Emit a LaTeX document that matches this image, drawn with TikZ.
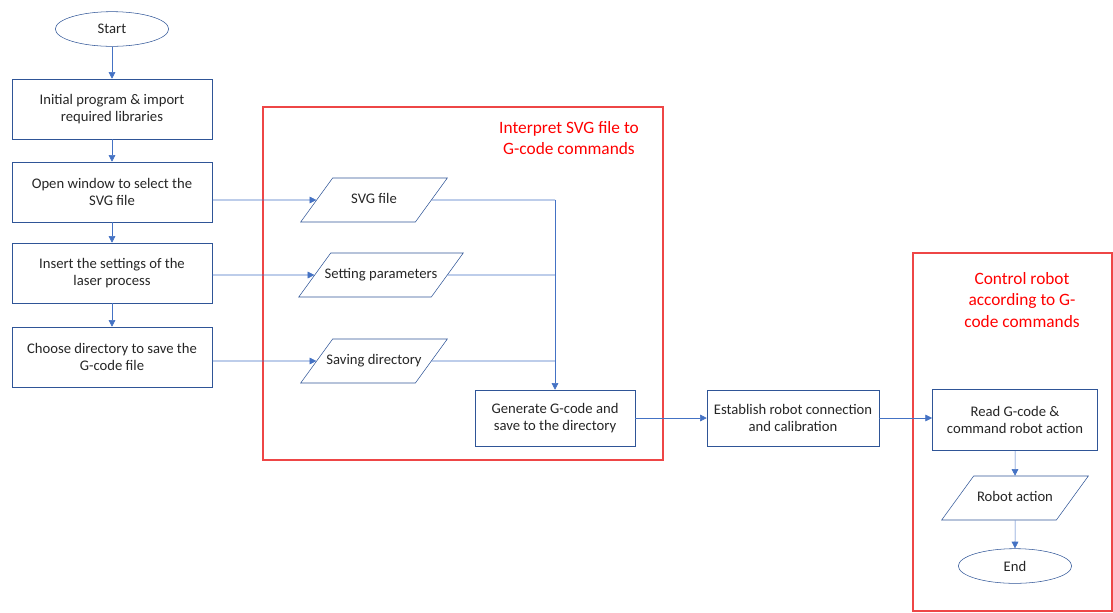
\documentclass[tikz,border=0pt]{standalone}
\usepackage{fontspec}
\setmainfont{Carlito}
\usetikzlibrary{shapes.geometric,arrows.meta}
\definecolor{lineblue}{RGB}{68,114,196}
\definecolor{edgeblue}{RGB}{47,85,151}
\definecolor{boxred}{RGB}{238,70,70}
\begin{document}
\begin{tikzpicture}[x=0.75pt,y=-0.75pt]
        \tikzstyle{txt}=[text=black!85, font=\fontsize{11}{13}\selectfont, align=center]
        \tikzstyle{proc}=[txt, rectangle, draw=edgeblue, minimum width=150pt, minimum height=45pt, inner sep=1pt]
        \tikzstyle{term}=[txt, ellipse, draw=edgeblue, minimum width=85pt, minimum height=26pt]
        \tikzstyle{io}=[txt, trapezium, trapezium left angle=54, trapezium right angle=126, trapezium stretches body=true, draw=edgeblue, minimum width=110pt, text height=8pt, text depth=2.5pt, inner xsep=1pt, inner ysep=11.25pt]
        \tikzstyle{flow}=[lineblue, -{Triangle[width=5pt,length=5pt]}]
        \tikzstyle{grp}=[boxred, line width=0.9pt]
        \tikzstyle{grptitle}=[text=red, font=\fontsize{13}{16}\selectfont, align=center]

        \useasboundingbox (0,0) rectangle (1113,612);

        % groups
        \draw[grp] (263,107) rectangle (663,460);
        \draw[grp] (913,253) rectangle (1112,611);
        \node[grptitle] (t1) at (569,138) {Interpret SVG file to\\G-code commands};
        \node[grptitle] (t2) at (1022,300) {Control robot\\according to G-\\code commands};

        % left column
        \node[term] (a) at (112,29) {Start};
        \node[proc] (b) at (112,109) {Initial program \& import\\required libraries};
        \node[proc] (c) at (112,192) {Open window to select the\\SVG file};
        \node[proc] (d) at (112,273) {Insert the settings of the\\laser process};
        \node[proc] (e) at (112,357) {Choose directory to save the\\G-code file};

        % inputs
        \node[io] (f) at (374,200) {SVG file};
        \node[io, inner xsep=-4.5pt] (g) at (381,275) {Setting parameters};
        \node[io, inner xsep=-5pt] (h) at (374,361) {Saving directory};

        \node[proc, minimum width=120pt, minimum height=42pt] (i) at (555,418) {Generate G-code and\\save to the directory};
        \node[proc, minimum width=129pt, minimum height=42pt] (j) at (793,418) {Establish robot connection\\and calibration};
        \node[proc, minimum width=124pt, minimum height=46pt] (k) at (1015,420) {Read G-code \&\\command robot action};
        \node[io] (l) at (1015,498) {Robot action};
        \node[term] (m) at (1015,566) {End};

        \draw[flow] (a) -- (b);
        \draw[flow] (b) -- (c);
        \draw[flow] (c) -- (d);
        \draw[flow] (d) -- (e);

        \draw[flow] (f -| c.east) -- (f.west);
        \draw[flow] (g -| d.east) -- (g.west);
        \draw[flow] (h -| e.east) -- (h.west);

        \draw[lineblue] (f.east) -- (f -| i);
        \draw[lineblue] (g.east) -- (g -| i);
        \draw[lineblue] (h.east) -- (h -| i);
        \draw[flow] (f -| i) -- (i.north);

        \draw[flow] (i) -- (j);
        \draw[flow] (j.east) -- (j -| k.west);
        \draw[flow] (k) -- (l);
        \draw[flow] (l) -- (m);
    \end{tikzpicture}
\end{document}
